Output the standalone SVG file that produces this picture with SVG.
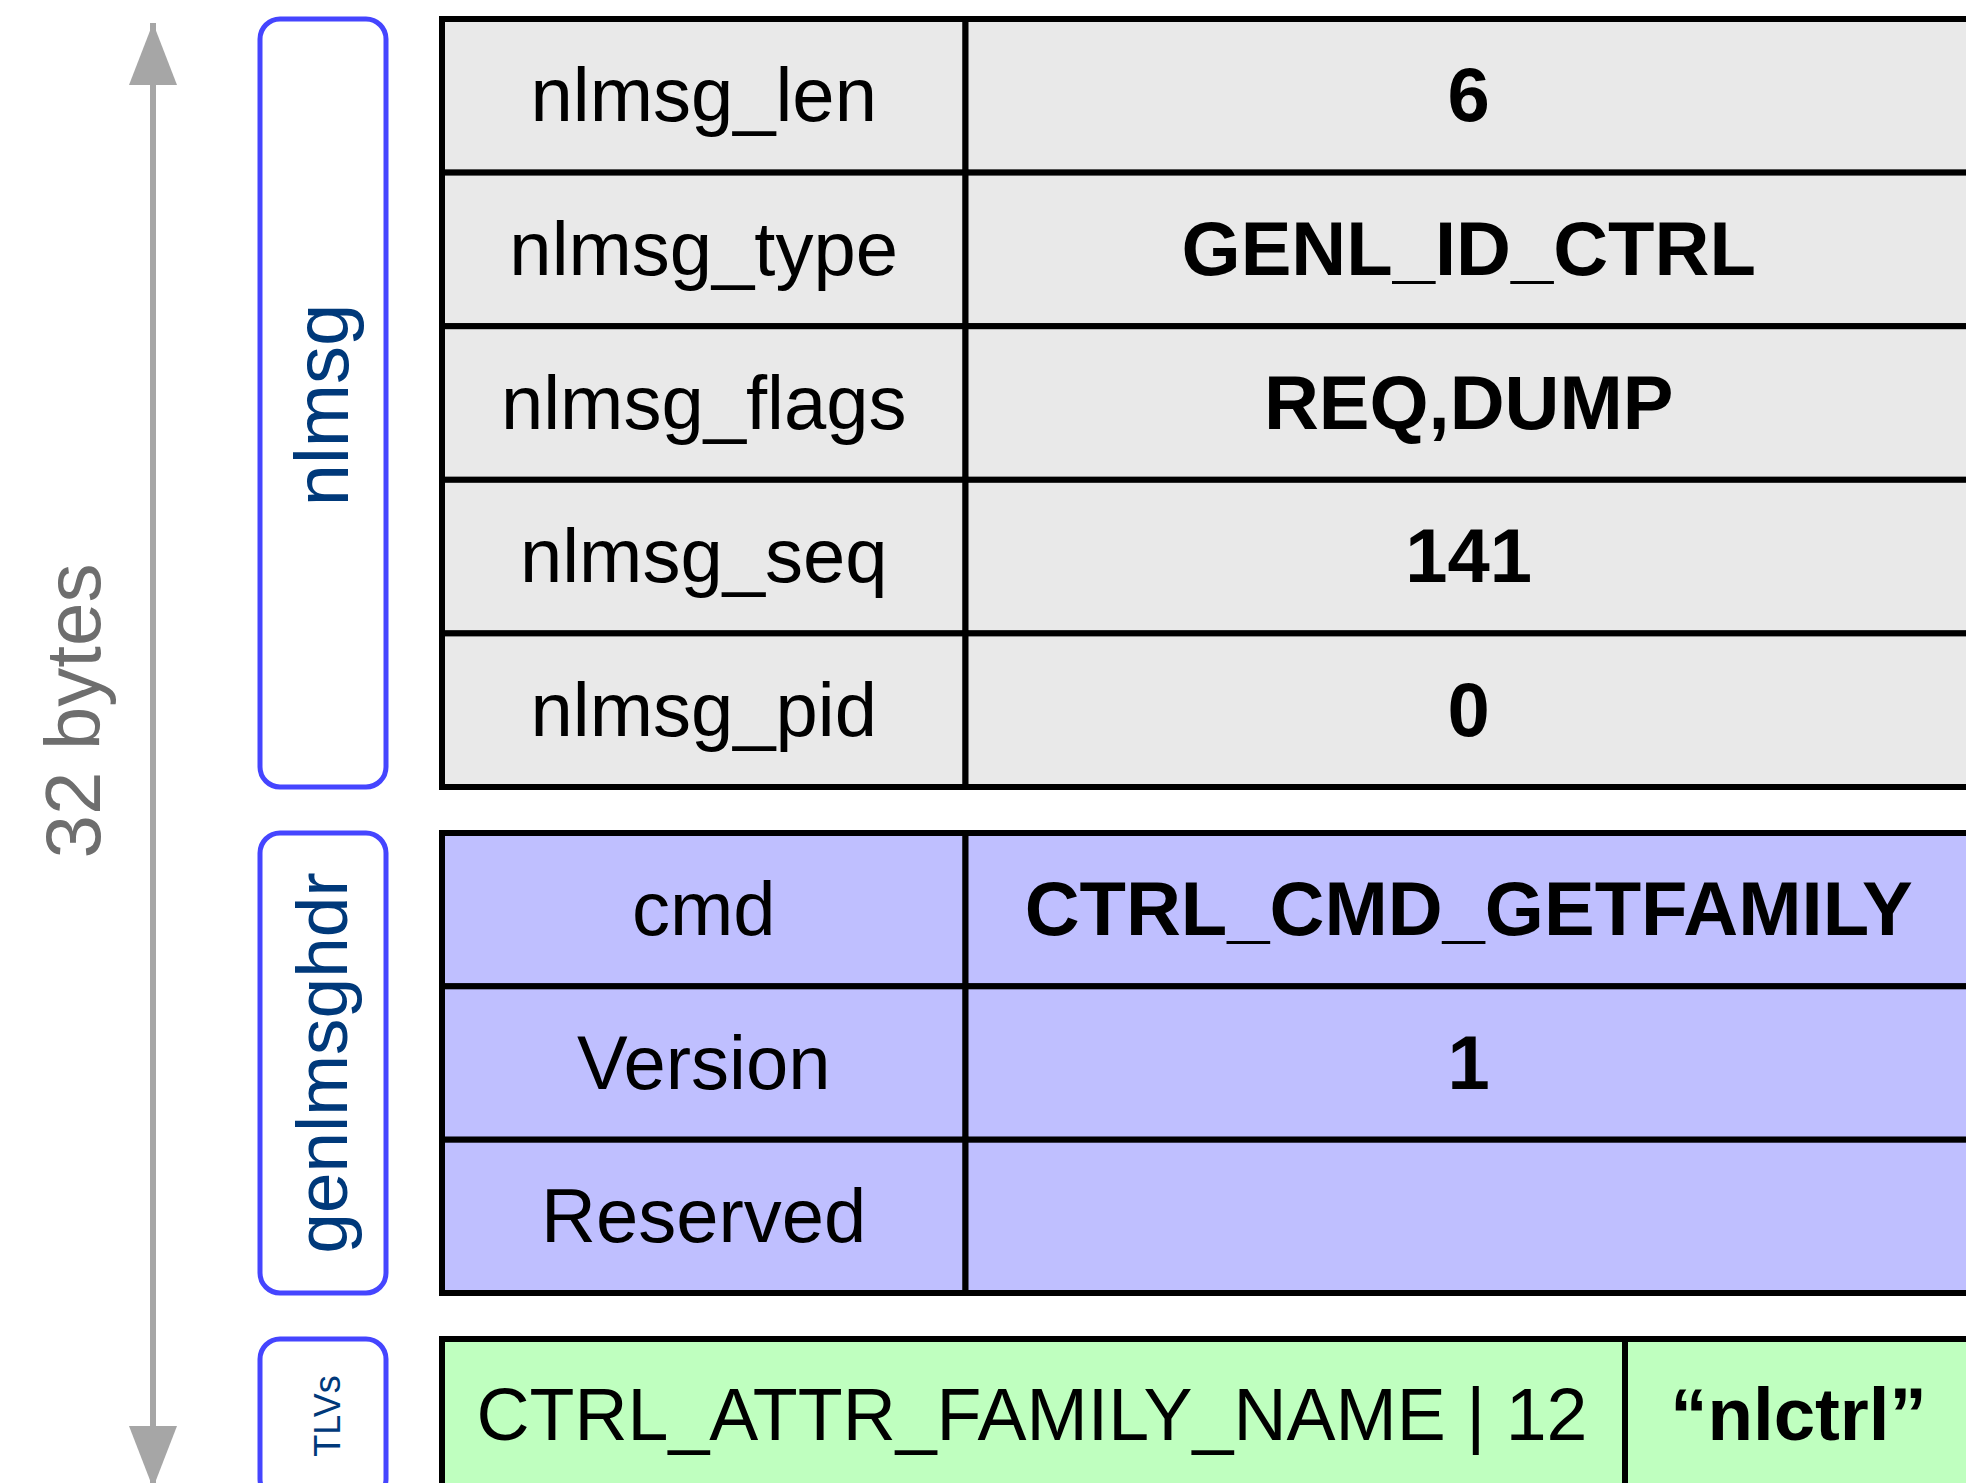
<svg xmlns="http://www.w3.org/2000/svg" width="1966" height="1483" viewBox="0 0 1966 1483">
  <style>
    .cell { stroke: #000000; stroke-width: 6; }
    .hdr { fill: #e9e9e9; }
    .gen { fill: #bfbfff; }
    .tlv { fill: #bfffbf; }
    .tag { fill: #ffffff; stroke: #4545ff; stroke-width: 5; }
    .tagtxt { font-family: "Liberation Sans", Arial, Helvetica, sans-serif; fill: #00397a; text-anchor: middle; }
    .name { font-family: "Liberation Sans", Arial, Helvetica, sans-serif; font-size: 76px; fill: #000000; text-anchor: middle; }
    .val { font-family: "Liberation Sans", Arial, Helvetica, sans-serif; font-size: 76px; font-weight: bold; fill: #000000; text-anchor: middle; }
    .dim { font-family: "Liberation Sans", Arial, Helvetica, sans-serif; font-size: 78px; fill: #6e6e6e; text-anchor: middle; }
    .span { stroke: #a6a6a6; stroke-width: 6; fill: none; }
  </style>
  <defs>
    <marker id="head" viewBox="0 0 62 48" refX="62" refY="24" markerWidth="62" markerHeight="48" markerUnits="userSpaceOnUse" orient="auto-start-reverse">
      <path d="M0,0 L62,24 L0,48 z" fill="#a6a6a6"/>
    </marker>
  </defs>

  <rect width="1966" height="1483" fill="#ffffff"/>

  <!-- overall size span -->
  <g id="connectors">
    <path class="span" d="M153,23 L153,1488" marker-start="url(#head)" marker-end="url(#head)"/>
  </g>
  <text class="dim" transform="translate(100,711) rotate(-90)">32 bytes</text>

  <!-- section tags -->
  <g id="tag-nlmsg">
    <rect class="tag" x="260" y="19" width="126" height="768" rx="20" ry="20"/>
    <text class="tagtxt" font-size="76" transform="translate(348,405) rotate(-90)">nlmsg</text>
  </g>
  <g id="tag-genlmsghdr">
    <rect class="tag" x="260" y="833" width="126" height="460" rx="20" ry="20"/>
    <text class="tagtxt" font-size="73" transform="translate(347,1063) rotate(-90)">genlmsghdr</text>
  </g>
  <g id="tag-tlvs">
    <rect class="tag" x="260" y="1339" width="126" height="160" rx="20" ry="20"/>
    <text class="tagtxt" font-size="36" transform="translate(340,1416) rotate(-90)">TLVs</text>
  </g>

  <!-- netlink message header -->
  <g id="nlmsghdr">
    <rect class="cell hdr" x="442" y="19" width="523.5" height="153.6"/>
    <rect class="cell hdr" x="965.5" y="19" width="1006.5" height="153.6"/>
    <rect class="cell hdr" x="442" y="172.6" width="523.5" height="153.6"/>
    <rect class="cell hdr" x="965.5" y="172.6" width="1006.5" height="153.6"/>
    <rect class="cell hdr" x="442" y="326.2" width="523.5" height="153.6"/>
    <rect class="cell hdr" x="965.5" y="326.2" width="1006.5" height="153.6"/>
    <rect class="cell hdr" x="442" y="479.8" width="523.5" height="153.6"/>
    <rect class="cell hdr" x="965.5" y="479.8" width="1006.5" height="153.6"/>
    <rect class="cell hdr" x="442" y="633.4" width="523.5" height="153.6"/>
    <rect class="cell hdr" x="965.5" y="633.4" width="1006.5" height="153.6"/>
    <text class="name" x="703.7" y="121.3">nlmsg_len</text>
    <text class="val" x="1468.7" y="121.3">6</text>
    <text class="name" x="703.7" y="275">nlmsg_type</text>
    <text class="val" x="1468.7" y="275">GENL_ID_CTRL</text>
    <text class="name" x="703.7" y="428.5">nlmsg_flags</text>
    <text class="val" x="1468.7" y="428.5">REQ,DUMP</text>
    <text class="name" x="703.7" y="582">nlmsg_seq</text>
    <text class="val" x="1468.7" y="582">141</text>
    <text class="name" x="703.7" y="735.7">nlmsg_pid</text>
    <text class="val" x="1468.7" y="735.7">0</text>
  </g>

  <!-- generic netlink header -->
  <g id="genlmsghdr">
    <rect class="cell gen" x="442" y="833" width="523.5" height="153.3"/>
    <rect class="cell gen" x="965.5" y="833" width="1006.5" height="153.3"/>
    <rect class="cell gen" x="442" y="986.3" width="523.5" height="153.4"/>
    <rect class="cell gen" x="965.5" y="986.3" width="1006.5" height="153.4"/>
    <rect class="cell gen" x="442" y="1139.7" width="523.5" height="153.3"/>
    <rect class="cell gen" x="965.5" y="1139.7" width="1006.5" height="153.3"/>
    <text class="name" x="703.7" y="935">cmd</text>
    <text class="val" x="1468.7" y="935">CTRL_CMD_GETFAMILY</text>
    <text class="name" x="703.7" y="1088.5">Version</text>
    <text class="val" x="1468.7" y="1088.5">1</text>
    <text class="name" x="703.7" y="1241.8">Reserved</text>
  </g>

  <!-- attributes -->
  <g id="tlv-family-name">
    <rect class="cell tlv" x="442" y="1339" width="1183" height="153.5"/>
    <rect class="cell tlv" x="1625" y="1339" width="347" height="153.5"/>
    <text class="name" x="1032" y="1440" style="font-size:73.5px">CTRL_ATTR_FAMILY_NAME | 12</text>
    <text class="val" x="1798.5" y="1440" style="font-size:74.5px">“nlctrl”</text>
  </g>
</svg>
